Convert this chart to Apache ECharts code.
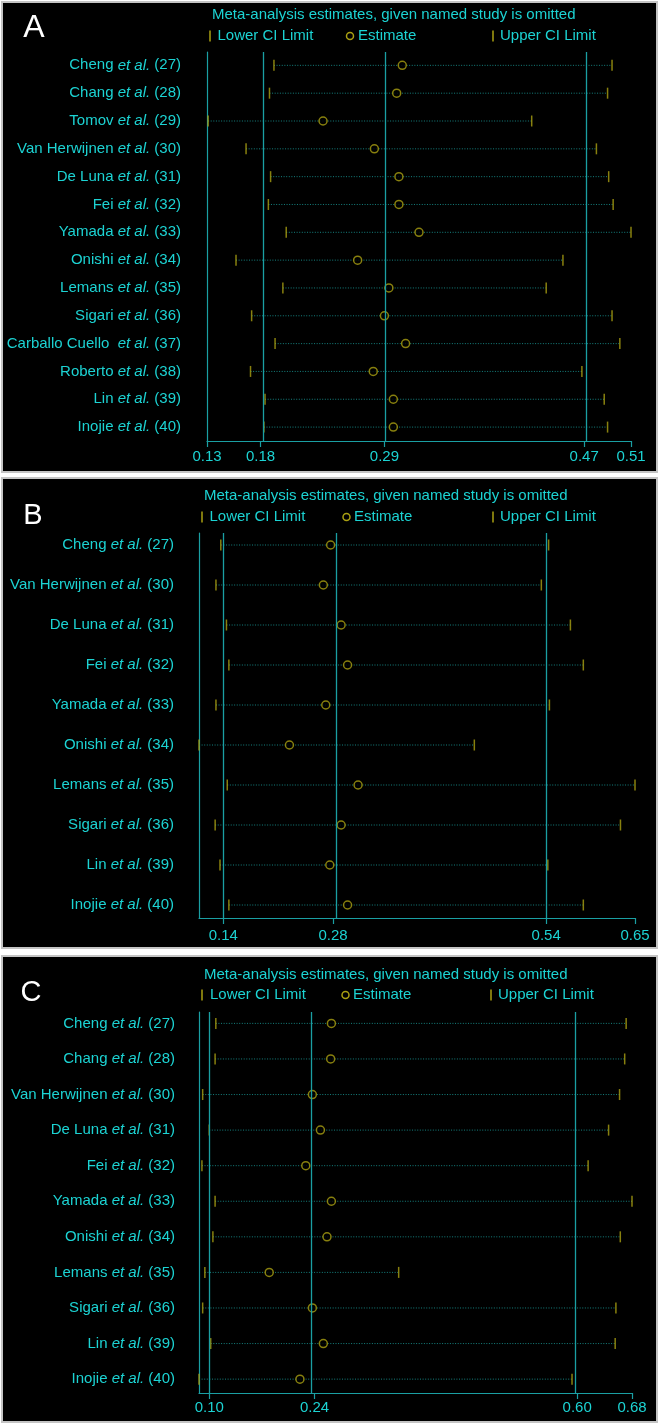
<!DOCTYPE html>
<html>
<head>
<meta charset="utf-8">
<script src="https://cdn.jsdelivr.net/npm/echarts@6.0.0/dist/echarts.min.js"></script>
<style>
  body { margin: 0; background: #fff; }
  .panel { position: absolute; left: 1px; width: 657px; background: #000; border: 2px solid #c4c4c4; box-sizing: border-box; }
  #chart { position: absolute; left: 0; top: 0; width: 661px; height: 1425px; }
</style>
</head>
<body>
<div class="panel" style="top:1px;height:472px"></div>
<div class="panel" style="top:477px;height:472px"></div>
<div class="panel" style="top:955px;height:468px"></div>
<div id="chart"></div>
<script>
// panel A
const namesA = ['Cheng', 'Chang', 'Tomov', 'Van Herwijnen', 'De Luna', 'Fei', 'Yamada', 'Onishi', 'Lemans', 'Sigari', 'Carballo Cuello ', 'Roberto', 'Lin', 'Inojie']
const refsA = [27, 28, 29, 30, 31, 32, 33, 34, 35, 36, 37, 38, 39, 40]
const lowerA = [0.190, 0.186, 0.131, 0.165, 0.187, 0.185, 0.201, 0.156, 0.198, 0.170, 0.191, 0.169, 0.182, 0.181]
const estA = [0.305, 0.300, 0.234, 0.280, 0.302, 0.302, 0.320, 0.265, 0.293, 0.289, 0.308, 0.279, 0.297, 0.297]
const upperA = [0.493, 0.489, 0.421, 0.479, 0.490, 0.494, 0.510, 0.449, 0.434, 0.493, 0.500, 0.466, 0.486, 0.489]
const linesA = [0.178, 0.289, 0.468]
const ticksA = [0.13, 0.178, 0.289, 0.468, 0.51]

// panel B
const namesB = ['Cheng', 'Van Herwijnen', 'De Luna', 'Fei', 'Yamada', 'Onishi', 'Lemans', 'Sigari', 'Lin', 'Inojie']
const refsB = [27, 30, 31, 32, 33, 34, 35, 36, 39, 40]
const lowerB = [0.137, 0.131, 0.144, 0.147, 0.131, 0.110, 0.145, 0.130, 0.136, 0.147]
const estB = [0.273, 0.264, 0.286, 0.294, 0.267, 0.222, 0.307, 0.286, 0.272, 0.294]
const upperB = [0.543, 0.534, 0.570, 0.586, 0.544, 0.451, 0.650, 0.632, 0.542, 0.586]
const linesB = [0.14, 0.276, 0.54]
const ticksB = [0.14, 0.276, 0.54, 0.65]

// panel C
const namesC = ['Cheng', 'Chang', 'Van Herwijnen', 'De Luna', 'Fei', 'Yamada', 'Onishi', 'Lemans', 'Sigari', 'Lin', 'Inojie']
const refsC = [27, 28, 30, 31, 32, 33, 34, 35, 36, 39, 40]
const lowerC = [0.109, 0.108, 0.091, 0.100, 0.090, 0.108, 0.105, 0.094, 0.091, 0.102, 0.086]
const estC = [0.267, 0.266, 0.241, 0.252, 0.232, 0.267, 0.261, 0.182, 0.241, 0.256, 0.224]
const upperC = [0.670, 0.668, 0.661, 0.646, 0.618, 0.678, 0.662, 0.359, 0.656, 0.655, 0.596]
const linesC = [0.10, 0.244, 0.603]
const ticksC = [0.10, 0.244, 0.603, 0.678]

const CYAN = '#1cd3d3'
const TEAL = '#1a9fa3'
const DOT = '#15817f'
const OLIVE = '#aaa012'
const FONT = '"Liberation Sans", Arial, sans-serif'

const panels = [
  { names: namesA, refs: refsA, lower: lowerA, est: estA, upper: upperA, lines: linesA, ticks: ticksA,
    xMin: 0.13, xMax: 0.51, yMin: -0.48, yMax: 13.5,
    left: 207, right: 30, top: 52, bottom: 984, labelGap: 8, nameGap: 26,
    letter: 'A', letterX: 34, letterY: 28, letterSize: 32,
    titleX: 212, titleY: 15, legY: 36, leg: [210, 217.5, 350, 358, 493, 500] },
  { names: namesB, refs: refsB, lower: lowerB, est: estB, upper: upperB, lines: linesB, ticks: ticksB,
    xMin: 0.11, xMax: 0.65, yMin: -0.3, yMax: 9.325,
    left: 199, right: 26, top: 533, bottom: 507, labelGap: 10, nameGap: 25,
    letter: 'B', letterX: 33, letterY: 516, letterSize: 29,
    titleX: 204, titleY: 496, legY: 517, leg: [202, 209.5, 346.5, 354, 493, 500] },
  { names: namesC, refs: refsC, lower: lowerC, est: estC, upper: upperC, lines: linesC, ticks: ticksC,
    xMin: 0.086, xMax: 0.678, yMin: -0.32, yMax: 10.39,
    left: 199, right: 29, top: 1012, bottom: 32, labelGap: 7, nameGap: 24,
    letter: 'C', letterX: 31, letterY: 993, letterSize: 29,
    titleX: 204, titleY: 975, legY: 995, leg: [202, 210, 345.5, 353, 491, 498] },
]

const grid = []
const xAxis = []
const yAxis = []
const series = []
const graphic = []

function textEl(text, x, y, size, color, align) {
  return {
    type: 'text', x, y,
    style: { text, fill: color, font: size + 'px ' + FONT, align: align || 'left', verticalAlign: 'middle' },
  }
}

panels.forEach((p, k) => {
  grid.push({ left: p.left, right: p.right, top: p.top, bottom: p.bottom, containLabel: false })
  xAxis.push({
    type: 'value', gridIndex: k, min: p.xMin, max: p.xMax, position: 'bottom',
    splitLine: { show: false },
    axisLine: { show: true, onZero: false, lineStyle: { color: TEAL, width: 1.2 } },
    axisTick: { show: true, customValues: p.ticks, length: 6, lineStyle: { color: TEAL, width: 1.2 } },
    axisLabel: {
      customValues: p.ticks, color: CYAN, fontSize: 15, fontFamily: FONT, margin: p.labelGap,
      formatter: v => v.toFixed(2),
    },
  })
  const idx = p.names.map((n, i) => i)
  yAxis.push({
    type: 'value', gridIndex: k, inverse: true, min: p.yMin, max: p.yMax,
    splitLine: { show: false },
    axisLine: { show: true, onZero: false, lineStyle: { color: TEAL, width: 1.2 } },
    axisTick: { show: false },
    axisLabel: {
      customValues: idx, margin: p.nameGap, color: CYAN, fontSize: 15, fontFamily: FONT,
      formatter: v => '{n|' + p.names[v] + ' }{i|et al.}{n| (' + p.refs[v] + ')}',
      rich: {
        n: { color: CYAN, fontSize: 15, fontFamily: FONT },
        i: { color: CYAN, fontSize: 15, fontFamily: FONT, fontStyle: 'italic' },
      },
    },
  })

  series.push({
    type: 'custom', xAxisIndex: k, yAxisIndex: k, z: 2,
    data: p.lower.map((l, i) => [l, p.upper[i], i]),
    encode: { x: [0, 1], y: 2 },
    renderItem: (params, api) => {
      const a = api.coord([api.value(0), api.value(2)])
      const b = api.coord([api.value(1), api.value(2)])
      return {
        type: 'line',
        shape: { x1: a[0], y1: a[1], x2: b[0], y2: b[1] },
        style: { stroke: DOT, lineWidth: 1, lineDash: [1, 1.6] },
      }
    },
  })
  series.push({
    type: 'scatter', xAxisIndex: k, yAxisIndex: k, z: 3,
    symbol: 'rect', symbolSize: [1.5, 11],
    itemStyle: { color: OLIVE },
    data: p.lower.map((v, i) => [v, i]),
  })
  series.push({
    type: 'scatter', xAxisIndex: k, yAxisIndex: k, z: 3,
    symbol: 'rect', symbolSize: [1.5, 11],
    itemStyle: { color: OLIVE },
    data: p.upper.map((v, i) => [v, i]),
  })
  series.push({
    type: 'scatter', xAxisIndex: k, yAxisIndex: k, z: 4,
    symbol: 'circle', symbolSize: 8,
    itemStyle: { color: '#000', borderColor: OLIVE, borderWidth: 1.5 },
    data: p.est.map((v, i) => [v, i]),
    markLine: {
      silent: true, symbol: 'none', label: { show: false },
      lineStyle: { color: TEAL, width: 1.3, type: 'solid' },
      data: p.lines.map(v => ({ xAxis: v })),
    },
  })

  // letter, title, legend
  graphic.push(textEl(p.letter, p.letterX, p.letterY, p.letterSize, '#fff', 'center'))
  graphic.push(textEl('Meta-analysis estimates, given named study is omitted', p.titleX, p.titleY, 15, CYAN))
  const L = p.leg
  graphic.push({ type: 'rect', shape: { x: L[0] - 0.75, y: p.legY - 5.5, width: 1.5, height: 11 }, style: { fill: OLIVE } })
  graphic.push(textEl('Lower CI Limit', L[1], p.legY, 15, CYAN))
  graphic.push({ type: 'circle', shape: { cx: L[2], cy: p.legY, r: 3.5 }, style: { fill: 'none', stroke: OLIVE, lineWidth: 1.5 } })
  graphic.push(textEl('Estimate', L[3], p.legY, 15, CYAN))
  graphic.push({ type: 'rect', shape: { x: L[4] - 0.75, y: p.legY - 5.5, width: 1.5, height: 11 }, style: { fill: OLIVE } })
  graphic.push(textEl('Upper CI Limit', L[5], p.legY, 15, CYAN))
})

const chart = echarts.init(document.getElementById('chart'))
chart.setOption({
  animation: false,
  backgroundColor: 'transparent',
  grid, xAxis, yAxis, series,
  graphic: { elements: graphic },
})
</script>
</body>
</html>
